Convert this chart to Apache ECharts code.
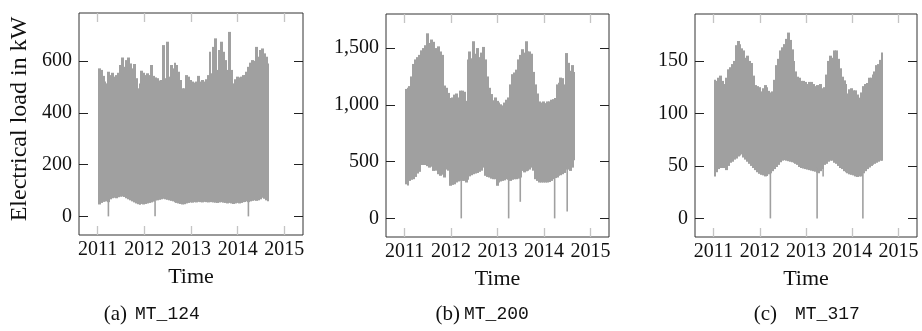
<!DOCTYPE html>
<html>
<head>
<meta charset="utf-8">
<script src="https://cdn.jsdelivr.net/npm/echarts@6/dist/echarts.min.js"></script>
<style>
  html, body { margin: 0; background: #fff; }
  #chart { width: 922px; height: 331px; }
</style>
</head>
<body>
<div id="chart"></div>
<script>
// half-month samples starting Jan 2011
const startYear = 2011;
const step = 1 / 24;
const yearTicks = [2011, 2012, 2013, 2014, 2015];

// MT_124: upper / lower envelope of the load (kW)
const mt124High = [572, 566, 543, 521, 514, 559, 546, 555, 540, 546,
  555, 585, 614, 578, 604, 614, 591, 572, 589, 534,
  495, 514, 563, 555, 546, 553, 546, 585, 543, 537,
  534, 525, 527, 662, 534, 675, 540, 585, 572, 594,
  585, 559, 527, 495, 495, 546, 540, 527, 521, 517,
  521, 543, 521, 527, 521, 530, 546, 636, 553, 655,
  688, 566, 643, 675, 636, 604, 566, 713, 566, 514,
  530, 540, 537, 540, 546, 546, 559, 578, 594, 604,
  601, 655, 617, 643, 649, 630, 617, 591];
const mt124Low = [46, 52, 56, 58, 58, 55, 66, 70, 72, 70,
  74, 76, 77, 75, 70, 66, 62, 58, 54, 50,
  47, 45, 48, 46, 48, 50, 52, 54, 57, 62,
  62, 64, 66, 68, 66, 64, 62, 60, 58, 55,
  52, 50, 48, 46, 47, 50, 52, 54, 53, 55,
  54, 56, 55, 54, 56, 55, 54, 56, 55, 54,
  53, 52, 54, 55, 53, 52, 50, 52, 50, 48,
  50, 52, 50, 52, 55, 56, 58, 55, 58, 60,
  62, 60, 62, 66, 72, 68, 62, 58];
const mt124Drops = [[2011.23, 0], [2012.23, 0], [2014.23, 0]];

// MT_200
const mt200High = [1140, 1150, 1165, 1250, 1360, 1400, 1420, 1440, 1480, 1500,
  1525, 1630, 1545, 1575, 1555, 1500, 1460, 1515, 1470, 1440,
  1170, 1150, 1105, 1060, 1065, 1090, 1100, 1065, 1125, 1125,
  1115, 1035, 1400, 1470, 1410, 1560, 1450, 1500, 1420, 1460,
  1510, 1400, 1250, 1150, 1095, 1040, 1065, 1035, 1020, 1005,
  995, 1020, 1045, 1065, 1180, 1270, 1285, 1310, 1400, 1440,
  1490, 1460, 1560, 1470, 1470, 1450, 1290, 1180, 1100, 1030,
  1020, 1030, 1015, 1030, 1030, 1045, 1050, 1060, 1180, 1195,
  1240, 1235, 1180, 1456, 1370, 1300, 1350, 1290];
const mt200Low = [300, 290, 330, 340, 345, 365, 395, 410, 470, 470,
  470, 460, 447, 455, 418, 420, 450, 389, 375, 385,
  360, 430, 420, 287, 295, 300, 316, 325, 330, 330,
  330, 316, 340, 370, 380, 389, 395, 400, 410, 420,
  447, 375, 365, 360, 350, 345, 345, 287, 316, 325,
  330, 335, 345, 340, 330, 340, 345, 345, 350, 360,
  418, 405, 415, 420, 430, 447, 420, 345, 330, 316,
  316, 316, 316, 316, 320, 330, 345, 355, 360, 375,
  380, 389, 400, 430, 430, 418, 447, 512];
const mt200Drops = [[2012.22, 0], [2013.24, 0], [2013.49, 146], [2014.23, 0], [2014.5, 60]];

// MT_317
const mt317High = [132, 131, 134, 136, 131, 128, 134, 142, 144, 147,
  150, 165, 169, 166, 162, 160, 153, 155, 150, 148,
  136, 127, 126, 125, 121, 124, 127, 125, 121.5, 120,
  121, 132, 146, 152, 160, 163, 166, 171, 177, 170,
  161, 150, 140, 135, 134, 131, 131, 130, 128, 130,
  130, 128, 126, 127, 125, 128, 124, 125, 137, 150,
  155, 153, 160, 160, 152, 143, 135, 131.5, 128, 119,
  123, 124, 122, 122, 118, 115, 120, 126, 128, 129,
  134, 134, 137, 140, 146, 147, 151, 158];
const mt317Low = [40, 44, 47, 48, 48, 48, 46, 50, 53, 54,
  56, 57, 59, 60, 61, 58, 56, 54, 52, 50,
  48, 46, 44, 42.5, 41.5, 41, 40, 40.5, 42, 43,
  45, 47, 49, 51, 53.5, 55, 55.5, 55, 54.5, 54,
  53.5, 53, 52, 51, 49, 48, 47.5, 47, 46.5, 46,
  45.5, 45, 44.5, 43.5, 43, 45, 47, 51, 52, 54,
  55, 55, 53, 52, 50, 48, 47, 45, 44, 43,
  42, 41.5, 41, 40, 39.5, 40, 40, 43, 45, 47,
  48.5, 50, 51, 52, 53, 54, 55, 55];
const mt317Drops = [[2012.23, 0], [2013.24, 0], [2013.37, 40], [2014.23, 0]];

const serif = 'Liberation Serif';
const mono = 'Liberation Mono';
const bandColor = '#a0a0a0';

const panels = [
  { grid: { left: 79, top: 13, width: 224, height: 222 }, yMin: -72, yMax: 786,
    yTicks: [0, 200, 400, 600], high: mt124High, low: mt124Low, drops: mt124Drops },
  { grid: { left: 386, top: 14, width: 223, height: 223 }, yMin: -164, yMax: 1800,
    yTicks: [0, 500, 1000, 1500], high: mt200High, low: mt200Low, drops: mt200Drops },
  { grid: { left: 695, top: 14, width: 222, height: 223 }, yMin: -17.7, yMax: 194.7,
    yTicks: [0, 50, 100, 150], high: mt317High, low: mt317Low, drops: mt317Drops }
];

const grids = [], xAxes = [], yAxes = [], series = [];

panels.forEach((p, gi) => {
  grids.push(Object.assign({ show: true, borderColor: '#333', borderWidth: 1, backgroundColor: 'transparent' }, p.grid));

  const xBase = {
    type: 'value', gridIndex: gi, min: 2010.6, max: 2015.4,
    axisLine: { show: false, onZero: false }, splitLine: { show: false },
    axisTick: { inside: true, length: 9, customValues: yearTicks, lineStyle: { color: '#c4c4c4', width: 1.3 } }
  };
  xAxes.push(Object.assign({}, xBase, {
    position: 'bottom',
    axisLabel: { customValues: yearTicks, formatter: v => String(v), fontFamily: serif, fontSize: 20, color: '#111', margin: 5 },
    name: 'Time', nameLocation: 'middle', nameGap: 31,
    nameTextStyle: { fontFamily: serif, fontSize: 22, color: '#111' }
  }));
  xAxes.push(Object.assign({}, xBase, { position: 'top', axisLabel: { show: false } }));

  const yBase = {
    type: 'value', gridIndex: gi, min: p.yMin, max: p.yMax,
    axisLine: { show: false, onZero: false }, splitLine: { show: false },
    axisTick: { inside: true, length: 9, customValues: p.yTicks, lineStyle: { color: '#222', width: 1 } }
  };
  yAxes.push(Object.assign({}, yBase, {
    position: 'left',
    axisLabel: { customValues: p.yTicks, formatter: v => v.toLocaleString('en-US'), fontFamily: serif, fontSize: 20, color: '#111', margin: 7 }
  }));
  yAxes.push(Object.assign({}, yBase, { position: 'right', axisLabel: { show: false } }));

  // dense load band: one bar from low to high per half-month sample,
  // edges snapped to whole pixels so neighbouring bars leave no seams
  series.push({
    type: 'custom', xAxisIndex: gi * 2, yAxisIndex: gi * 2,
    data: p.high.map((h, i) => [startYear + i * step, p.low[i], h]),
    encode: { x: 0, y: [1, 2] },
    renderItem: (params, api) => {
      const t = api.value(0);
      const a = api.coord([t, api.value(2)]);
      const b = api.coord([t + step, api.value(1)]);
      const x0 = Math.round(a[0]);
      const x1 = Math.round(b[0]);
      const last = params.dataIndex === p.high.length - 1;
      return {
        type: 'rect',
        shape: { x: x0, y: a[1], width: x1 - x0 + (last ? 0 : 1), height: b[1] - a[1] },
        style: { fill: bandColor }
      };
    }
  });

  // short outages that drop towards zero
  series.push({
    type: 'custom', xAxisIndex: gi * 2, yAxisIndex: gi * 2,
    data: p.drops.map(d => [d[0], d[1], p.low[Math.floor((d[0] - startYear) / step)] + 5]),
    encode: { x: 0, y: [1, 2] },
    renderItem: (params, api) => {
      const a = api.coord([api.value(0), api.value(2)]);
      const b = api.coord([api.value(0), api.value(1)]);
      return { type: 'rect', shape: { x: a[0] - 0.8, y: a[1], width: 1.6, height: b[1] - a[1] }, style: { fill: bandColor } };
    }
  });
});

// y title and sub-figure captions
const graphic = [{
  type: 'text', x: 20, y: 119, rotation: Math.PI / 2,
  style: { text: 'Electrical load in kW', font: '24px "' + serif + '"', fill: '#111', textAlign: 'center', textVerticalAlign: 'middle' }
}];
const captions = [
  { tag: '(a)', name: 'MT_124', tagRight: 127, nameLeft: 135 },
  { tag: '(b)', name: 'MT_200', tagRight: 460, nameLeft: 464 },
  { tag: '(c)', name: 'MT_317', tagRight: 777, nameLeft: 795 }
];
captions.forEach(c => {
  graphic.push({ type: 'text', x: c.tagRight, y: 314,
    style: { text: c.tag, font: '21px "' + serif + '"', fill: '#111', textAlign: 'right', textVerticalAlign: 'middle' } });
  graphic.push({ type: 'text', x: c.nameLeft, y: 314,
    style: { text: c.name, font: '18px "' + mono + '"', fill: '#111', textAlign: 'left', textVerticalAlign: 'middle' } });
});

const chart = echarts.init(document.getElementById('chart'), null, { renderer: 'canvas' });
chart.setOption({
  animation: false,
  grid: grids,
  xAxis: xAxes,
  yAxis: yAxes,
  series: series,
  graphic: graphic
});
</script>
</body>
</html>
